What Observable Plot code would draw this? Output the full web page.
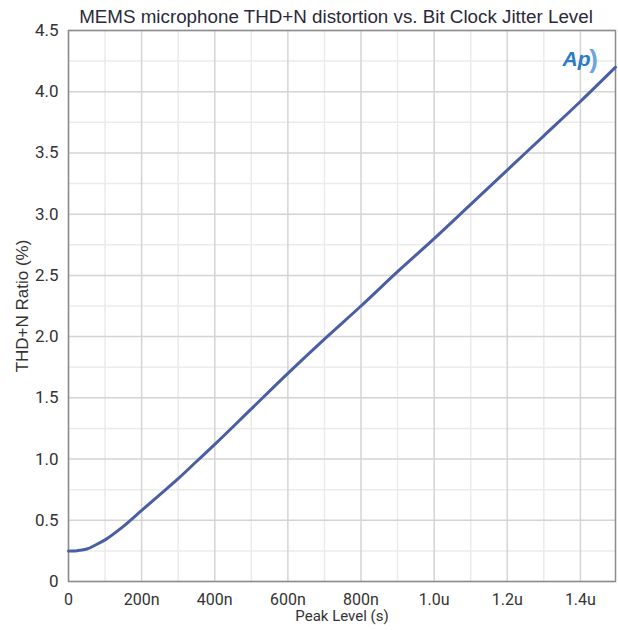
<!DOCTYPE html>
<html>
<head>
<meta charset="utf-8">
<script src="https://cdn.jsdelivr.net/npm/d3@7"></script>
<script src="https://cdn.jsdelivr.net/npm/@observablehq/plot@0.6"></script>
<style>
  body { margin: 0; background: #fff; width: 618px; height: 630px; overflow: hidden; }
  #title { position: relative; height: 20px; }
  #title span { position: absolute; left: 0; top: 6px; width: 672px; text-align: center;
    font-family: "Liberation Sans", Arial, sans-serif; font-size: 18.8px;
    color: #2a2a3a; white-space: nowrap; line-height: 22px; }
  svg { overflow: visible; }
</style>
</head>
<body>
<div id="title"><span>MEMS microphone THD+N distortion vs. Bit Clock Jitter Level</span></div>
<div id="chart"></div>
<script>
// Jitter (peak level, seconds)
const jitterSeconds = [0, 10e-9, 20e-9, 30e-9, 50e-9, 75e-9, 100e-9, 150e-9, 200e-9, 250e-9, 300e-9,
  350e-9, 400e-9, 500e-9, 600e-9, 700e-9, 800e-9, 900e-9, 1.0e-6, 1.1e-6, 1.2e-6, 1.3e-6, 1.4e-6, 1.496e-6];
// THD+N ratio (%)
const thdnPercent = [0.25, 0.25, 0.25, 0.255, 0.265, 0.30, 0.34, 0.45, 0.58, 0.71, 0.84,
  0.98, 1.12, 1.41, 1.70, 1.98, 2.25, 2.53, 2.80, 3.08, 3.36, 3.64, 3.92, 4.20];

const xTicks = [0, 2e-7, 4e-7, 6e-7, 8e-7, 1.0e-6, 1.2e-6, 1.4e-6];
const xTickLabels = ["0", "200n", "400n", "600n", "800n", "1.0u", "1.2u", "1.4u"];
const xMinor = [1e-7, 3e-7, 5e-7, 7e-7, 9e-7, 1.1e-6, 1.3e-6];
const yTicks = [0, 0.5, 1.0, 1.5, 2.0, 2.5, 3.0, 3.5, 4.0, 4.5];
const yTickLabels = ["0", "0.5", "1.0", "1.5", "2.0", "2.5", "3.0", "3.5", "4.0", "4.5"];
const yMinor = [0.25, 0.75, 1.25, 1.75, 2.25, 2.75, 3.25, 3.75, 4.25];

const xLabel = "Peak Level (s)";
const yLabel = "THD+N Ratio (%)";

const data = jitterSeconds.map((x, i) => ({x, y: thdnPercent[i]}));

const tickFont = "Roboto, 'Open Sans', sans-serif";

const chart = Plot.plot({
  width: 618,
  height: 610,
  marginLeft: 68,
  marginRight: 3,
  marginTop: 10,
  marginBottom: 49,
  style: { fontFamily: tickFont, fontSize: "17px", color: "#333", background: "#fff", overflow: "visible" },
  x: { domain: [0, 1.496e-6], label: null },
  y: { domain: [0, 4.5], label: null },
  marks: [
    Plot.ruleX(xMinor, { stroke: "#ebebeb", strokeWidth: 1.5 }),
    Plot.ruleY(yMinor, { stroke: "#ebebeb", strokeWidth: 1.5 }),
    Plot.ruleX(xTicks, { stroke: "#d4d4d4", strokeWidth: 1.5 }),
    Plot.ruleY(yTicks, { stroke: "#d4d4d4", strokeWidth: 1.5 }),
    Plot.frame({ stroke: "#8c8c8c", strokeWidth: 1.5 }),
    Plot.axisX({ ticks: xTicks, tickFormat: d => xTickLabels[xTicks.indexOf(d)], tickSize: 0, tickPadding: 12, label: null, fontSize: 16 }),
    Plot.axisY({ ticks: yTicks, tickFormat: d => yTickLabels[yTicks.indexOf(d)], tickSize: 0, tickPadding: 10, label: null, fontSize: 17 }),
    Plot.line(data, { x: "x", y: "y", stroke: "#4a5ea3", strokeWidth: 3, curve: "monotone-x" }),
    Plot.text([xLabel], { text: d => d, frameAnchor: "bottom", dy: 39.5, fontSize: 15, fill: "#333", fontFamily: tickFont }),
    Plot.text([yLabel], { text: d => d, frameAnchor: "left", dx: -46, rotate: -90, textAnchor: "middle", fontSize: 17, fill: "#333",
      fontFamily: "'Liberation Sans', Arial, sans-serif" }),
    Plot.text(["Ap"], { text: d => d, frameAnchor: "top-right", dx: -39, dy: 29, textAnchor: "middle", lineAnchor: "middle",
      fontSize: 21, fontStyle: "italic", fontWeight: "bold", fill: "#2a7cc4", fontFamily: "'Liberation Sans', Arial, sans-serif" }),
    Plot.text([")"], { text: d => d, frameAnchor: "top-right", dx: -22, dy: 29, textAnchor: "middle", lineAnchor: "middle",
      fontSize: 26, fontWeight: "bold", fill: "#6aa8dc", fontFamily: "'Liberation Sans', Arial, sans-serif" })
  ]
});
document.getElementById("chart").appendChild(chart);
</script>
</body>
</html>
